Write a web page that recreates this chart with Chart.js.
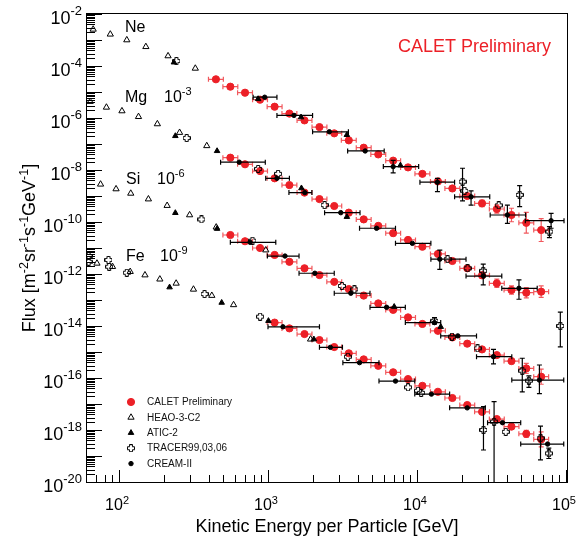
<!DOCTYPE html>
<html>
<head>
<meta charset="utf-8">
<script src="https://cdn.jsdelivr.net/npm/chart.js@4.4.0/dist/chart.umd.min.js"></script>
<style>
	html, body { margin: 0; padding: 0; background: #fff; }
	canvas { display: block; }
</style>
</head>
<body>
<canvas id="chart-flux" width="585" height="547"></canvas>
<script>
// CALET energy bins [GeV] (shared by all four elements)
const caletE = [440, 550, 690, 870, 1090, 1370, 1730, 2180, 2740, 3430, 4320, 5410, 6810, 8570, 10700, 13600, 17000, 21400, 26900, 33800, 42400, 53300, 67100];
const CALET_HALF_BIN_DEX = 0.05;

// CALET flux as plotted (Mg x1e-3, Si x1e-6, Fe x1e-9); null = no point
const caletNe = [3.08e-5, 1.60e-5, 9.4e-6, 5.07e-6, 2.72e-6, 1.48e-6, 8.1e-7, 4.47e-7, 2.57e-7, 1.38e-7, 7.2e-8, 3.98e-8, 2.29e-8, 1.26e-8, 7.1e-9, 3.63e-9, 1.95e-9, 1.0e-9, 5.2e-10, 3.16e-10, 1.86e-10, 9.3e-11, 4.9e-11];
const caletMg = [null, 2.98e-8, 1.66e-8, 9.1e-9, 4.79e-9, 2.63e-9, 1.35e-9, 7.6e-10, 4.12e-10, 2.29e-10, 1.26e-10, 7.1e-11, 3.72e-11, 2.04e-11, 1.12e-11, 5.9e-12, 3.16e-12, 1.66e-12, 8.9e-13, 4.37e-13, 2.40e-13, 1.91e-13, 2.09e-13];
const caletSi = [null, 3.16e-11, 1.82e-11, 1.0e-11, 5.4e-12, 2.95e-12, 1.66e-12, 9.1e-13, 5.0e-13, 2.63e-13, 1.48e-13, 7.4e-14, 4.17e-14, 2.14e-14, 1.20e-14, 6.5e-15, 3.63e-15, 2.09e-15, 1.26e-15, 7.6e-16, 4.47e-16, 2.34e-16, 1.12e-16];
const caletFe = [null, null, null, null, 1.35e-14, 8.1e-15, 4.9e-15, 2.88e-15, 1.55e-15, 8.9e-16, 5.2e-16, 2.95e-16, 1.66e-16, 9.1e-17, 5.0e-17, 2.95e-17, 1.70e-17, 9.1e-18, 5.0e-18, 2.63e-18, 1.35e-18, 7.1e-19, 4.37e-19];

// CALET vertical error (decades, up and down)
const caletNeErr = [0, 0, 0, 0, 0, 0, 0, 0, 0, 0, 0, 0, 0, 0, 0, 0, 0.04, 0.05, 0.13, 0.16, 0.26, 0.40, 0.44];
const caletMgErr = [0, 0, 0, 0, 0, 0, 0, 0, 0, 0, 0, 0, 0, 0, 0, 0, 0.04, 0.07, 0.12, 0.16, 0.16, 0.20, 0.22];
const caletSiErr = [0, 0, 0, 0, 0, 0, 0, 0, 0, 0, 0, 0, 0, 0, 0, 0, 0, 0, 0.04, 0.06, 0.10, 0.19, 0.29];
const caletFeErr = [0, 0, 0, 0, 0, 0, 0, 0, 0, 0, 0, 0, 0, 0, 0, 0, 0, 0, 0.05, 0.06, 0.10, 0.14, 0.29];

// HEAO-3-C2 (Ne, Mg, Si, Fe)
const heaoE = [66, 86, 111, 149, 210, 320, 63, 81, 103, 133, 178, 251, 382, 74, 94, 118, 155, 207, 293, 442, 951, 70, 89, 117, 147, 185, 238, 311, 413, 578, 1900];
const heaoFlux = [2.57e-3, 1.66e-3, 1.0e-3, 5.5e-4, 2.43e-4, 8.1e-5, 4.27e-6, 2.57e-6, 1.86e-6, 1.12e-6, 5.9e-7, 2.75e-7, 8.5e-8, 2.82e-9, 1.86e-9, 1.26e-9, 7.6e-10, 4.27e-10, 1.86e-10, 6.3e-11, 8.3e-12, 2.57e-12, 1.91e-12, 1.23e-12, 9.1e-13, 6.3e-13, 4.37e-13, 2.57e-13, 1.48e-13, 6.5e-14, 3.09e-15];

// ATIC-2
const aticE = [230, 845, 1640, 3330, 7620, 235, 448, 1650, 3330, 235, 448, 6920, 14200, 215, 481, 991, 2000];
const aticFlux = [1.38e-4, 5.4e-6, 1.07e-6, 2.24e-7, 1.51e-8, 2.04e-7, 5.4e-8, 2.0e-9, 1.58e-10, 2.24e-10, 5.5e-11, 5.5e-14, 9.3e-15, 3.09e-13, 7.9e-14, 1.58e-14, 3.09e-15];

// TRACER99,03,06
const tracerE = [239, 19900, 20500, 34800, 48100, 76200, 280, 845, 1150, 2360, 15800, 21500, 27400, 90200, 352, 774, 3080, 3740, 12900, 16900, 25100, 50100, 55500, 61.5, 61.5, 83.6, 84.5, 111, 369, 871, 3380, 8570, 10000, 10500, 27500, 32400, 38800, 66400, 75500];
const tracerFlux = [1.55e-4, 3.55e-9, 1.58e-9, 4.37e-10, 1.10e-9, 4.27e-11, 1.70e-7, 1.10e-8, 7.1e-9, 4.47e-10, 3.72e-12, 1.66e-12, 1.32e-12, 1.0e-14, 1.26e-10, 1.91e-11, 3.47e-13, 2.57e-13, 1.58e-14, 3.89e-15, 1.38e-15, 1.91e-16, 7.9e-17, 4.9e-12, 2.95e-12, 3.47e-12, 1.91e-12, 1.12e-12, 1.70e-13, 2.29e-14, 6.6e-16, 4.37e-17, 3.24e-17, 2.69e-17, 1.0e-18, 2.09e-18, 8.5e-19, 4.8e-19, 1.26e-19];
const tracerFluxLo = [null, 6.5e-10, null, null, 3.89e-10, 2.51e-11, null, null, null, null, null, null, 3.8e-13, 1.58e-15, null, null, null, null, 1.2e-14, null, null, 2.95e-17, 4.37e-17, null, null, null, null, null, null, null, null, null, null, null, 1.70e-19, 1e-21, null, 7.1e-20, 8.0e-20];
const tracerFluxHi = [null, 1.17e-8, null, null, 2.51e-9, 6.6e-11, null, null, null, null, null, null, 2.4e-12, 3.39e-14, null, null, null, null, 2.1e-14, null, null, 5.75e-16, 1.20e-16, null, null, null, null, null, null, null, null, null, null, null, 7.9e-18, 1.23e-17, null, 1.41e-18, 2.0e-19];

// CREAM-II
const creamE = [935, 1470, 2540, 4420, 6810, 13500, 22700, 39800, 78200, 631, 1130, 1740, 3030, 5270, 9160, 14000, 27500, 47600, 746, 1280, 2030, 3540, 6150, 12900, 18500, 32100, 65300, 1240, 2580, 4050, 7060, 12300, 21400, 36900, 74100];
const creamELo = [782, 1130, 1960, 3370, 5850, 10300, 17600, 30500, 52500, 473, 950, 1360, 2360, 4050, 7060, 12200, 21000, 36500, 550, 975, 1590, 2740, 4760, 8220, 14200, 24700, 42600, 984, 2180, 3130, 5470, 9510, 16300, 29300, 48900];
const creamEHi = [1130, 1960, 3410, 5930, 10100, 17600, 30300, 52700, 95500, 944, 1370, 1940, 4080, 7060, 12200, 21000, 36500, 63100, 1110, 1590, 2740, 4760, 8220, 14200, 24700, 42600, 95100, 2180, 3110, 5470, 9510, 16300, 28300, 48900, 95100];
const creamFlux = [6.3e-6, 1.26e-6, 2.95e-7, 5.4e-8, 1.35e-8, 3.39e-9, 9.3e-10, 1.86e-10, 1.12e-10, 2.0e-8, 4.79e-9, 1.35e-9, 2.29e-10, 5.75e-11, 1.51e-11, 3.72e-12, 8.3e-13, 2.82e-13, 1.66e-11, 4.9e-12, 1.07e-12, 1.82e-13, 5.25e-14, 1.35e-14, 4.17e-15, 6.6e-16, 8.3e-17, 9.3e-15, 1.51e-15, 3.89e-16, 7.6e-17, 2.40e-17, 7.1e-18, 1.91e-18, 2.88e-19];
const creamFluxLo = [null, null, null, null, 7.8e-9, 1.48e-9, 4.47e-10, 8.9e-11, 5.75e-11, null, null, null, null, null, null, 1.51e-12, null, 1.07e-13, null, null, null, null, null, null, null, 3.47e-16, 2.5e-17, null, null, null, null, null, null, null, null];
const creamFluxHi = [null, null, null, null, 2.34e-8, 4.79e-9, 1.58e-9, 4.47e-10, 2.14e-10, null, null, null, null, null, null, 8.3e-12, null, 5.9e-13, null, null, null, null, null, null, null, 1.26e-15, 3.16e-16, null, null, null, null, null, null, null, null];

// Axis ranges and labels
const X_MIN = 60, X_MAX = 1e5;
const Y_MIN = 1e-20, Y_MAX = 1e-2;
const xLabelExps = [2, 3, 4, 5];
const yLabelExps = [-2, -4, -6, -8, -10, -12, -14, -16, -18, -20];
const elementLabels = [
	{ name: "Ne", scale: null, x: 125, y: 32 },
	{ name: "Mg", scale: "-3", x: 125, y: 102, sx: 164 },
	{ name: "Si", scale: "-6", x: 126, y: 184, sx: 157 },
	{ name: "Fe", scale: "-9", x: 126, y: 261, sx: 160 },
];

const FONT = '"Liberation Sans", Arial, Helvetica, sans-serif';
const RED = "#ec2027";
const RED_BAR = "rgba(236, 32, 39, 0.75)";

// TRACER marker: open cross
const openCross = (() => {
	const c = document.createElement("canvas");
	c.width = 8;
	c.height = 8;
	const g = c.getContext("2d");
	g.strokeStyle = "#000";
	g.lineWidth = 1;
	g.beginPath();
	const p = [[2.5, 0.5], [5.5, 0.5], [5.5, 2.5], [7.5, 2.5], [7.5, 5.5], [5.5, 5.5], [5.5, 7.5], [2.5, 7.5], [2.5, 5.5], [0.5, 5.5], [0.5, 2.5], [2.5, 2.5]];
	p.forEach(([x, y], i) => (i ? g.lineTo(x, y) : g.moveTo(x, y)));
	g.closePath();
	g.stroke();
	return c;
})();

// Build points
const caletPoints = [];
const halfBin = Math.pow(10, CALET_HALF_BIN_DEX);
[[caletNe, caletNeErr], [caletMg, caletMgErr], [caletSi, caletSiErr], [caletFe, caletFeErr]].forEach(([flux, err]) => {
	flux.forEach((y, i) => {
		if (y === null) return;
		const f = Math.pow(10, err[i]);
		caletPoints.push({
			x: caletE[i], y,
			xMin: caletE[i] / halfBin, xMax: caletE[i] * halfBin,
			yMin: err[i] ? y / f : null, yMax: err[i] ? y * f : null,
		});
	});
});
const heaoPoints = heaoE.map((x, i) => ({ x, y: heaoFlux[i] }));
const aticPoints = aticE.map((x, i) => ({ x, y: aticFlux[i] }));
const tracerPoints = tracerE.map((x, i) => ({ x, y: tracerFlux[i], yMin: tracerFluxLo[i], yMax: tracerFluxHi[i] }));
const creamPoints = creamE.map((x, i) => ({ x, y: creamFlux[i], xMin: creamELo[i], xMax: creamEHi[i], yMin: creamFluxLo[i], yMax: creamFluxHi[i] }));

const DATA = {
	datasets: [
		{ label: "HEAO-3-C2", data: heaoPoints, pointStyle: "triangle", pointRadius: 3.6, pointBackgroundColor: "rgba(0,0,0,0)", pointBorderColor: "#000", pointBorderWidth: 1, legendOrder: 1 },
		{ label: "ATIC-2", data: aticPoints, pointStyle: "triangle", pointRadius: 3.2, pointBackgroundColor: "#000", pointBorderColor: "#000", pointBorderWidth: 1, legendOrder: 2 },
		{ label: "TRACER99,03,06", data: tracerPoints, pointStyle: openCross, pointRadius: 4, errorColor: "#000", legendOrder: 3 },
		{ label: "CREAM-II", data: creamPoints, pointStyle: "circle", pointRadius: 2.2, pointBackgroundColor: "#000", pointBorderColor: "#000", pointBorderWidth: 1, errorColor: "#000", legendOrder: 4 },
		{ label: "CALET Preliminary", data: caletPoints, pointStyle: "circle", pointRadius: 3.6, pointBackgroundColor: RED, pointBorderColor: RED, pointBorderWidth: 1, errorColor: RED_BAR, legendOrder: 0 },
	],
};

// text with a superscript, returns width
function drawPower(ctx, x, y, base, exp, size, supSize, rise, align) {
	ctx.font = `${size}px ${FONT}`;
	const bw = ctx.measureText(base).width;
	ctx.font = `${supSize}px ${FONT}`;
	const ew = ctx.measureText(exp).width;
	let x0 = x;
	if (align === "right") x0 = x - bw - ew;
	if (align === "center") x0 = x - (bw + ew) / 2;
	ctx.textAlign = "left";
	ctx.textBaseline = "alphabetic";
	ctx.font = `${size}px ${FONT}`;
	ctx.fillText(base, x0, y);
	ctx.font = `${supSize}px ${FONT}`;
	ctx.fillText(exp, x0 + bw, y - rise);
	return bw + ew;
}

const errorBars = {
	id: "errorBars",
	beforeDatasetDraw(chart, args) {
		const ds = chart.data.datasets[args.index];
		if (!ds.errorColor) return;
		const { ctx, chartArea: a, scales } = chart;
		const sx = scales.x, sy = scales.y;
		ctx.save();
		ctx.beginPath();
		ctx.rect(a.left, a.top, a.right - a.left, a.bottom - a.top);
		ctx.clip();
		ctx.strokeStyle = ds.errorColor;
		ctx.lineWidth = 1.2;
		ctx.beginPath();
		ds.data.forEach((p) => {
			const px = sx.getPixelForValue(p.x);
			const py = sy.getPixelForValue(p.y);
			if (p.xMin) {
				const x0 = sx.getPixelForValue(p.xMin), x1 = sx.getPixelForValue(p.xMax);
				ctx.moveTo(x0, py); ctx.lineTo(x1, py);
				ctx.moveTo(x0, py - 2.5); ctx.lineTo(x0, py + 2.5);
				ctx.moveTo(x1, py - 2.5); ctx.lineTo(x1, py + 2.5);
			}
			if (p.yMin) {
				const y0 = sy.getPixelForValue(p.yMin), y1 = sy.getPixelForValue(p.yMax);
				ctx.moveTo(px, y0); ctx.lineTo(px, y1);
				ctx.moveTo(px - 2.5, y0); ctx.lineTo(px + 2.5, y0);
				ctx.moveTo(px - 2.5, y1); ctx.lineTo(px + 2.5, y1);
			}
		});
		ctx.stroke();
		ctx.restore();
	},
};

const frameAndText = {
	id: "frameAndText",
	afterDraw(chart) {
		const { ctx, chartArea: a, scales } = chart;
		const sx = scales.x, sy = scales.y;
		ctx.save();
		ctx.strokeStyle = "#000";
		ctx.fillStyle = "#000";
		ctx.lineWidth = 1;

		// frame
		ctx.strokeRect(a.left - 0.5, a.top - 0.5, a.right - a.left + 1, a.bottom - a.top + 1);

		// ticks, drawn inward
		ctx.beginPath();
		for (let d = -20; d <= -2; d++) {
			for (let k = 1; k <= 9; k++) {
				const v = k * Math.pow(10, d);
				if (v > Y_MAX * 1.0001) break;
				const py = Math.round(sy.getPixelForValue(v)) + 0.5;
				ctx.moveTo(a.left, py);
				ctx.lineTo(a.left + (k === 1 ? 15 : 8), py);
			}
		}
		for (let d = 1; d <= 5; d++) {
			for (let k = 1; k <= 9; k++) {
				const v = k * Math.pow(10, d);
				if (v < X_MIN * 1.01 || v > X_MAX * 1.0001) continue;
				const px = Math.round(sx.getPixelForValue(v)) - 0.5;
				ctx.moveTo(px, a.bottom);
				ctx.lineTo(px, a.bottom - (k === 1 ? 12 : 7));
			}
		}
		ctx.stroke();

		// tick labels
		yLabelExps.forEach((e) => {
			const py = sy.getPixelForValue(Math.pow(10, e));
			drawPower(ctx, 82, py + 10, "10", String(e), 18, 13, 9, "right");
		});
		xLabelExps.forEach((e) => {
			const px = sx.getPixelForValue(Math.pow(10, e));
			drawPower(ctx, px - 3, 510, "10", String(e), 16, 11, 6, "center");
		});

		// axis titles
		ctx.font = `18px ${FONT}`;
		ctx.textAlign = "center";
		ctx.fillText("Kinetic Energy per Particle [GeV]", (a.left + a.right) / 2, 532);

		const parts = [["Flux [m", "-2"], ["sr", "-1"], ["s", "-1"], ["GeV", "-1"], ["]", ""]];
		let total = 0;
		parts.forEach(([b, e]) => {
			ctx.font = `18px ${FONT}`;
			total += ctx.measureText(b).width;
			ctx.font = `12.5px ${FONT}`;
			total += ctx.measureText(e).width;
		});
		ctx.translate(35, (a.top + a.bottom) / 2);
		ctx.rotate(-Math.PI / 2);
		let cx = -total / 2;
		parts.forEach(([b, e]) => {
			cx += drawPower(ctx, cx, 0, b, e, 18, 12.5, 7, "left");
		});
		ctx.setTransform(1, 0, 0, 1, 0, 0);

		// element labels
		elementLabels.forEach((l) => {
			ctx.font = `16px ${FONT}`;
			ctx.textAlign = "left";
			ctx.fillText(l.name, l.x, l.y);
			if (l.scale) drawPower(ctx, l.sx, l.y, "10", l.scale, 16, 11, 7, "left");
		});

		// CALET Preliminary
		ctx.fillStyle = RED;
		ctx.font = `18px ${FONT}`;
		ctx.textAlign = "left";
		ctx.fillText("CALET Preliminary", 398, 51.5);

		// legend
		const rows = chart.data.datasets.slice().sort((p, q) => p.legendOrder - q.legendOrder);
		rows.forEach((ds, i) => {
			const ly = 402 + i * 15.4;
			ctx.fillStyle = ds.pointBackgroundColor || "#000";
			ctx.strokeStyle = ds.pointBorderColor || "#000";
			ctx.lineWidth = ds.pointBorderWidth || 1;
			Chart.helpers.drawPoint(ctx, { pointStyle: ds.pointStyle, radius: ds.pointRadius, rotation: 0, borderWidth: ds.pointBorderWidth || 0 }, 131, ly);
			ctx.fillStyle = "#111";
			ctx.font = `10px ${FONT}`;
			ctx.textAlign = "left";
			ctx.textBaseline = "middle";
			ctx.fillText(ds.label, 147, ly + 0.5);
		});
		ctx.restore();
	},
};

const CONFIG = {
	type: "scatter",
	data: DATA,
	options: {
		responsive: false,
		animation: false,
		events: [],
		layout: {
			padding: { top: 14, right: 18, left: 0, bottom: 0 },
		},
		plugins: {
			legend: { display: false },
			tooltip: { enabled: false },
		},
		scales: {
			x: {
				type: "logarithmic",
				min: X_MIN,
				max: X_MAX,
				grid: { display: false },
				border: { display: false },
				ticks: { display: false },
				afterFit: (scale) => { scale.height = 65; },
			},
			y: {
				type: "logarithmic",
				min: Y_MIN,
				max: Y_MAX,
				grid: { display: false },
				border: { display: false },
				ticks: { display: false },
				afterFit: (scale) => { scale.width = 87; },
			},
		},
	},
	plugins: [errorBars, frameAndText],
};

new Chart(document.getElementById("chart-flux"), CONFIG);
</script>
</body>
</html>
